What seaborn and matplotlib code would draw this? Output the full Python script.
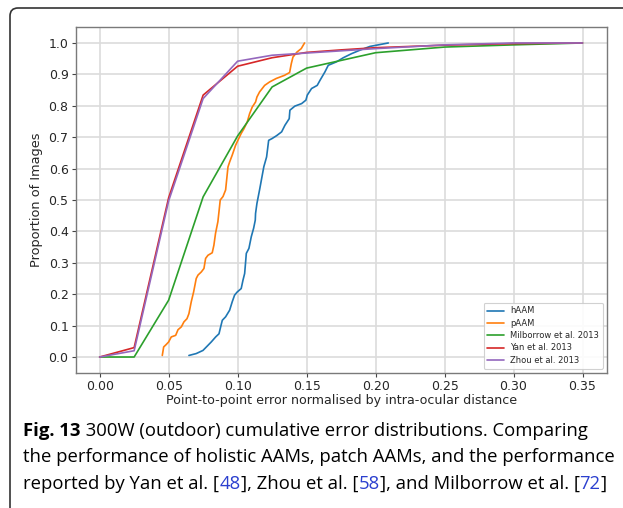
import matplotlib
matplotlib.use("Agg")
import matplotlib.pyplot as plt
import seaborn as sns
import pandas as pd
from matplotlib.patches import FancyBboxPatch
from matplotlib.ticker import FormatStrFormatter

# Cumulative error curves
series_names = ["hAAM", "pAAM", "Milborrow et al. 2013", "Yan et al. 2013", "Zhou et al. 2013"]

haam_x = [0.0647, 0.0700, 0.0749, 0.0778, 0.0809, 0.0841, 0.0865, 0.0877, 0.0889, 0.0913,
          0.0942, 0.0961, 0.0978, 0.0997, 0.1026, 0.1039, 0.1051, 0.1058, 0.1063, 0.1082,
          0.1099, 0.1116, 0.1128, 0.1130, 0.1140, 0.1159, 0.1190, 0.1210, 0.1225, 0.1251,
          0.1283, 0.1319, 0.1343, 0.1374, 0.1379, 0.1415, 0.1464, 0.1495, 0.1505, 0.1536,
          0.1577, 0.1597, 0.1633, 0.1657, 0.1717, 0.1766, 0.1826, 0.1886, 0.1959, 0.2092]
haam_y = [0.005, 0.011, 0.021, 0.034, 0.048, 0.064, 0.074, 0.096, 0.117, 0.128,
          0.149, 0.176, 0.197, 0.207, 0.218, 0.245, 0.266, 0.303, 0.330, 0.346,
          0.383, 0.410, 0.436, 0.457, 0.489, 0.532, 0.606, 0.637, 0.690, 0.696,
          0.705, 0.717, 0.738, 0.759, 0.786, 0.799, 0.807, 0.818, 0.834, 0.855,
          0.865, 0.881, 0.908, 0.929, 0.940, 0.953, 0.966, 0.977, 0.989, 1.000]

paam_x = [0.0454, 0.0464, 0.0483, 0.0500, 0.0519, 0.0551, 0.0568, 0.0592, 0.0611, 0.0633,
          0.0647, 0.0664, 0.0681, 0.0700, 0.0713, 0.0737, 0.0756, 0.0768, 0.0785, 0.0816,
          0.0828, 0.0840, 0.0857, 0.0865, 0.0874, 0.0894, 0.0913, 0.0930, 0.0942, 0.0961,
          0.0985, 0.1002, 0.1026, 0.1046, 0.1070, 0.1087, 0.1106, 0.1130, 0.1140, 0.1159,
          0.1196, 0.1232, 0.1280, 0.1340, 0.1377, 0.1389, 0.1401, 0.1430, 0.1461, 0.1485]
paam_y = [0.005, 0.032, 0.040, 0.048, 0.064, 0.069, 0.087, 0.096, 0.112, 0.122,
          0.138, 0.176, 0.207, 0.250, 0.261, 0.271, 0.282, 0.314, 0.324, 0.332,
          0.356, 0.394, 0.431, 0.463, 0.500, 0.511, 0.532, 0.605, 0.621, 0.643,
          0.674, 0.690, 0.712, 0.727, 0.749, 0.775, 0.796, 0.812, 0.828, 0.844,
          0.865, 0.876, 0.887, 0.897, 0.906, 0.934, 0.955, 0.971, 0.982, 1.000]

milb_x = [0.0, 0.025, 0.05, 0.075, 0.10, 0.125, 0.15, 0.20, 0.25, 0.30, 0.35]
milb_y = [0.0, 0.0, 0.181, 0.51, 0.704, 0.860, 0.920, 0.969, 0.987, 0.994, 1.0]

yan_x = [0.0, 0.025, 0.05, 0.075, 0.10, 0.125, 0.15, 0.175, 0.20, 0.25, 0.30, 0.35]
yan_y = [0.0, 0.030, 0.507, 0.834, 0.926, 0.953, 0.970, 0.978, 0.985, 0.993, 0.998, 1.0]

zhou_x = [0.0, 0.025, 0.05, 0.075, 0.10, 0.125, 0.15, 0.175, 0.20, 0.25, 0.30, 0.35]
zhou_y = [0.0, 0.020, 0.497, 0.823, 0.942, 0.961, 0.968, 0.975, 0.982, 0.994, 1.0, 1.0]

x_ticks = [0.00, 0.05, 0.10, 0.15, 0.20, 0.25, 0.30, 0.35]
y_ticks = [0.0, 0.1, 0.2, 0.3, 0.4, 0.5, 0.6, 0.7, 0.8, 0.9, 1.0]

frames = []
for name, xs, ys in zip(series_names,
                        [haam_x, paam_x, milb_x, yan_x, zhou_x],
                        [haam_y, paam_y, milb_y, yan_y, zhou_y]):
    frames.append(pd.DataFrame({"error": xs, "proportion": ys, "method": name}))
df = pd.concat(frames, ignore_index=True)

sns.set_style("whitegrid", {
    "grid.color": "#dcdcdc",
    "axes.edgecolor": "#7a7a7a",
    "xtick.bottom": True,
    "ytick.left": True,
})
plt.rcParams["font.family"] = ["DejaVu Sans"]

fig = plt.figure(figsize=(6.23, 5.08), dpi=100)
ax = fig.add_axes([0.1212, 0.2663, 0.8526, 0.68])

palette = ["#1f77b4", "#ff7f0e", "#2ca02c", "#d62728", "#9467bd"]
sns.lineplot(data=df, x="error", y="proportion", hue="method", hue_order=series_names,
             palette=palette, sort=False, estimator=None, linewidth=1.2, ax=ax)

ax.set_xlim(-0.0175, 0.3675)
ax.set_ylim(-0.05, 1.05)
ax.set_xticks(x_ticks)
ax.set_yticks(y_ticks)
ax.xaxis.set_major_formatter(FormatStrFormatter("%.2f"))
ax.yaxis.set_major_formatter(FormatStrFormatter("%.1f"))
ax.tick_params(labelsize=9, length=3, width=0.8, color="#444444", pad=2)
ax.grid(True, linewidth=1.2)
for s in ax.spines.values():
    s.set_linewidth(1.0)
ax.set_xlabel("Point-to-point error normalised by intra-ocular distance", fontsize=9.1, labelpad=1)
ax.set_ylabel("Proportion of Images", fontsize=9.3, labelpad=4)

leg = ax.legend(loc="lower right", fontsize=6.0, handlelength=2.0, frameon=True,
                edgecolor="#cccccc", framealpha=0.9, borderpad=0.45, labelspacing=0.4,
                handletextpad=0.7)
leg.get_frame().set_linewidth(0.8)

# rounded frame around the figure panel (right/bottom run off the image)
frame = FancyBboxPatch((0.10, -0.6), 7.0, 5.6, boxstyle="round,pad=0,rounding_size=0.08",
                       transform=fig.dpi_scale_trans, facecolor="none",
                       edgecolor="#333333", linewidth=1.2)
fig.patches.append(frame)

# caption, built from pieces so the bold label and blue citations sit inline
cap_font = dict(family=["Open Sans", "DejaVu Sans"], fontsize=13.3)
blue = "#2b3fcf"

lines = [
    [("Fig. 13", "black", "bold"),
     (" 300W (outdoor) cumulative error distributions. Comparing", "black", "normal")],
    [("the performance of holistic AAMs, patch AAMs, and the performance", "black", "normal")],
    [("reported by Yan et al. [", "black", "normal"), ("48", blue, "normal"),
     ("], Zhou et al. [", "black", "normal"), ("58", blue, "normal"),
     ("], and Milborrow et al. [", "black", "normal"), ("72", blue, "normal"),
     ("]", "black", "normal")],
]
baselines = [4.36, 4.625, 4.89]

for pieces, yb in zip(lines, baselines):
    prev = fig.text(0.235 / 6.23, 1 - yb / 5.08, pieces[0][0], color=pieces[0][1],
                    fontweight=pieces[0][2], va="baseline", ha="left", **cap_font)
    for text, col, wt in pieces[1:]:
        prev = ax.annotate(text, xy=(1, 0), xycoords=prev, xytext=(0, 0),
                           textcoords="offset points", va="bottom", ha="left",
                           color=col, fontweight=wt, annotation_clip=False, **cap_font)

fig.savefig("out.png", dpi=100)
